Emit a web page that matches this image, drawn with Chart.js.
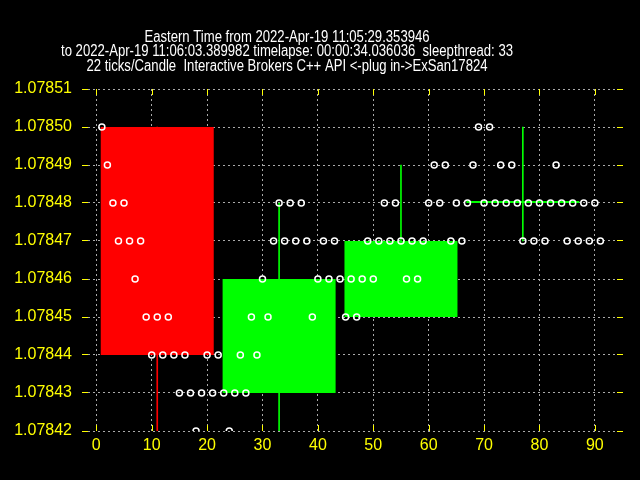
<!DOCTYPE html>
<html>
<head>
<meta charset="utf-8">
<script src="https://cdn.jsdelivr.net/npm/chart.js@4.4.0/dist/chart.umd.min.js"></script>
<style>
  html, body { margin: 0; padding: 0; background: #000; }
</style>
</head>
<body>
<canvas id="candleChart" width="640" height="480"></canvas>
<script>
// title text
const titleLines = [
    'Eastern Time from 2022-Apr-19 11:05:29.353946',
    'to 2022-Apr-19 11:06:03.389982 timelapse: 00:00:34.036036  sleepthread: 33',
    '22 ticks/Candle  Interactive Brokers C++ API <-plug in->ExSan17824'
];

// tick prices, tick n is at x = n (1..91)
const tickPrices = [
    1.07850, 1.07849, 1.07848, 1.07847, 1.07848, 1.07847, 1.07846, 1.07847, 1.07845, 1.07844,
    1.07845, 1.07844, 1.07845, 1.07844, 1.07843, 1.07844, 1.07843, 1.07842, 1.07843, 1.07844,
    1.07843, 1.07844, 1.07843, 1.07842, 1.07843, 1.07844, 1.07843, 1.07845, 1.07844, 1.07846,
    1.07845, 1.07847, 1.07848, 1.07847, 1.07848, 1.07847, 1.07848, 1.07847, 1.07845, 1.07846,
    1.07847, 1.07846, 1.07847, 1.07846, 1.07845, 1.07846, 1.07845, 1.07846, 1.07847, 1.07846,
    1.07847, 1.07848, 1.07847, 1.07848, 1.07847, 1.07846, 1.07847, 1.07846, 1.07847, 1.07848,
    1.07849, 1.07848, 1.07849, 1.07847, 1.07848, 1.07847, 1.07848, 1.07849, 1.07850, 1.07848,
    1.07850, 1.07848, 1.07849, 1.07848, 1.07849, 1.07848, 1.07847, 1.07848, 1.07847, 1.07848,
    1.07847, 1.07848, 1.07849, 1.07848, 1.07847, 1.07848, 1.07847, 1.07848, 1.07847, 1.07848,
    1.07847
];

// candles (22 ticks each)
const candleX = [11, 33, 55, 77];
const candleOpen = [1.07850, 1.07843, 1.07845, 1.07848];
const candleHigh = [1.07850, 1.07848, 1.07849, 1.07850];
const candleLow = [1.07842, 1.07842, 1.07845, 1.07847];
const candleClose = [1.07844, 1.07846, 1.07847, 1.07848];

// axis ticks
const xTicks = [0, 10, 20, 30, 40, 50, 60, 70, 80, 90];
const yTicks = [1.07842, 1.07843, 1.07844, 1.07845, 1.07846, 1.07847, 1.07848, 1.07849, 1.07850, 1.07851];

const candleColors = candleOpen.map((o, i) => candleClose[i] < o ? '#ff0000' : '#00ff00');
const yellow = '#ffff00';
const gridGray = '#aaaaaa';
const fontFamily = '"Liberation Sans", Arial, sans-serif';

// title drawn centred like the ROOT canvas, squeezed to a narrow face
const rootTitle = {
    id: 'rootTitle',
    afterDraw(chart) {
        const c = chart.ctx;
        c.save();
        c.fillStyle = '#ffffff';
        c.font = '16px ' + fontFamily;
        c.textAlign = 'center';
        c.textBaseline = 'alphabetic';
        titleLines.forEach((t, i) => {
            const w = c.measureText(t).width * 0.82;
            c.fillText(t, 287, 41.5 + i * 14.5, w);
        });
        c.restore();
    }
};

// x tick marks point into the frame, top and bottom
const innerTicks = {
    id: 'innerTicks',
    afterDraw(chart) {
        const c = chart.ctx;
        const area = chart.chartArea;
        const x = chart.scales.x;
        c.save();
        c.strokeStyle = yellow;
        c.lineWidth = 1;
        xTicks.forEach(v => {
            const px = Math.round(x.getPixelForValue(v)) + 0.5;
            c.beginPath();
            c.moveTo(px, area.bottom);
            c.lineTo(px, area.bottom - 6);
            c.moveTo(px, area.top);
            c.lineTo(px, area.top + 6);
            c.stroke();
        });
        c.restore();
    }
};

const ctx = document.getElementById('candleChart').getContext('2d');

const candleChart = new Chart(ctx, {
    type: 'scatter',
    data: {
        datasets: [
            {
                type: 'scatter',
                label: 'ticks',
                data: tickPrices.map((p, i) => ({ x: i + 1, y: p })),
                pointStyle: 'circle',
                pointRadius: 3,
                borderWidth: 1.5,
                borderColor: '#ffffff',
                backgroundColor: 'rgba(0,0,0,0)',
                order: 0
            },
            {
                type: 'bar',
                label: 'body',
                data: candleX.map((x, i) => ({ x: x, y: [candleOpen[i], candleClose[i]] })),
                backgroundColor: candleColors,
                borderWidth: 0,
                grouped: false,
                // bar width is measured against the 10-unit tick step: 20.4 units wide
                categoryPercentage: 1,
                barPercentage: 2.04,
                minBarLength: 2,
                order: 1
            },
            {
                type: 'bar',
                label: 'wick',
                data: candleX.map((x, i) => ({ x: x, y: [candleLow[i], candleHigh[i]] })),
                backgroundColor: candleColors,
                borderWidth: 0,
                grouped: false,
                barThickness: 1,
                order: 2
            }
        ]
    },
    options: {
        responsive: false,
        animation: false,
        layout: { padding: { left: 0, right: 0, top: 89, bottom: 0 } },
        scales: {
            x: {
                type: 'linear',
                min: -1.5,
                max: 94,
                offset: false,
                afterBuildTicks: s => { s.ticks = xTicks.map(v => ({ value: v })); },
                afterFit: s => { s.height = 49; },
                grid: {
                    color: gridGray,
                    offset: false,
                    drawTicks: false,
                    lineWidth: 1
                },
                border: { display: false, dash: [2, 3] },
                ticks: {
                    color: yellow,
                    font: { family: fontFamily, size: 16 },
                    padding: 5,
                    maxRotation: 0
                }
            },
            y: {
                type: 'linear',
                position: 'left',
                min: 1.07842,
                max: 1.07851,
                beginAtZero: false,
                afterBuildTicks: s => { s.ticks = yTicks.map(v => ({ value: v })); },
                afterFit: s => { s.width = 88; },
                grid: {
                    color: gridGray,
                    tickColor: yellow,
                    tickLength: 6,
                    tickBorderDash: [],
                    lineWidth: 1
                },
                border: { display: false, dash: [2, 3] },
                ticks: {
                    color: yellow,
                    font: { family: fontFamily, size: 16 },
                    padding: 10,
                    callback: v => v.toFixed(5)
                }
            },
            y2: {
                type: 'linear',
                position: 'right',
                min: 1.07842,
                max: 1.07851,
                afterBuildTicks: s => { s.ticks = yTicks.map(v => ({ value: v })); },
                afterFit: s => { s.width = 23; },
                grid: {
                    drawOnChartArea: false,
                    tickColor: yellow,
                    tickLength: 6
                },
                border: { display: false },
                ticks: { display: false }
            }
        },
        plugins: {
            legend: { display: false },
            title: { display: false },
            tooltip: { enabled: false }
        }
    },
    plugins: [rootTitle, innerTicks]
});
</script>
</body>
</html>
